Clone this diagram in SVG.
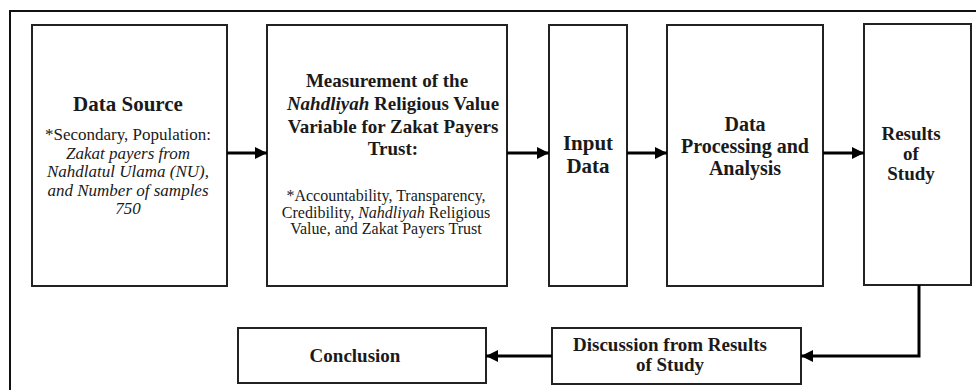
<svg xmlns="http://www.w3.org/2000/svg" width="976" height="390" viewBox="0 0 976 390">
<style>
.box{fill:#fff;stroke:#222;stroke-width:2}
.frame{fill:none;stroke:#111;stroke-width:2}
.conn{fill:none;stroke:#000;stroke-width:3}
text{font-family:"Liberation Serif","Times New Roman",serif;fill:#1a1a1a;text-anchor:middle}
.b{font-weight:bold}
.i{font-style:italic}
</style>
<defs>
<marker id="ah" markerUnits="userSpaceOnUse" markerWidth="12" markerHeight="12" viewBox="0 0 12 12" refX="12" refY="6" orient="auto">
<path d="M0,0 L12,6 L0,12 z" fill="#000"/>
</marker>
</defs>
<rect class="frame" x="10" y="11" width="1000" height="420"/>
<g id="data-source">
<rect class="box" x="32" y="25" width="195" height="261"/>
<text class="b" x="128" y="111" font-size="21">Data Source</text>
<text x="128" y="140" font-size="17">*Secondary, Population:</text>
<text class="i" x="128" y="158.5" font-size="17">Zakat payers from</text>
<text class="i" x="128" y="177" font-size="17">Nahdlatul Ulama (NU),</text>
<text class="i" x="128" y="195.5" font-size="17">and Number of samples</text>
<text class="i" x="128" y="214" font-size="17">750</text>
</g>
<g id="measurement">
<rect class="box" x="267" y="25" width="240" height="261"/>
<text class="b" x="387" y="87" font-size="19">Measurement of the</text>
<text class="b" x="393" y="110" font-size="19"><tspan class="i">Nahdliyah</tspan> Religious Value</text>
<text class="b" x="393" y="132.5" font-size="19">Variable for Zakat Payers</text>
<text class="b" x="393" y="155" font-size="19">Trust:</text>
<text x="386" y="201" font-size="16">*Accountability, Transparency,</text>
<text x="386" y="217.5" font-size="16">Credibility, <tspan class="i">Nahdliyah</tspan> Religious</text>
<text x="386" y="234" font-size="16">Value, and Zakat Payers Trust</text>
</g>
<g id="input-data">
<rect class="box" x="549" y="25" width="78" height="261"/>
<text class="b" x="588" y="150" font-size="21">Input</text>
<text class="b" x="588" y="173" font-size="21">Data</text>
</g>
<g id="processing">
<rect class="box" x="667" y="25" width="156" height="261"/>
<text class="b" x="745" y="131" font-size="20">Data</text>
<text class="b" x="745" y="153" font-size="20">Processing and</text>
<text class="b" x="745" y="175" font-size="20">Analysis</text>
</g>
<g id="results">
<rect class="box" x="864" y="24" width="107" height="261"/>
<text class="b" x="911" y="140" font-size="19">Results</text>
<text class="b" x="911" y="160" font-size="19">of</text>
<text class="b" x="911" y="180" font-size="19">Study</text>
</g>
<g id="discussion">
<rect class="box" x="552" y="328" width="249" height="56"/>
<text class="b" x="670" y="351" font-size="19">Discussion from Results</text>
<text class="b" x="670" y="371" font-size="19">of Study</text>
</g>
<g id="conclusion">
<rect class="box" x="238" y="328" width="248" height="55"/>
<text class="b" x="355" y="362" font-size="19">Conclusion</text>
</g>
<g id="connectors">
<line class="conn" x1="227" y1="153" x2="267" y2="153" marker-end="url(#ah)"/>
<line class="conn" x1="507" y1="153" x2="549" y2="153" marker-end="url(#ah)"/>
<line class="conn" x1="627" y1="153" x2="667" y2="153" marker-end="url(#ah)"/>
<line class="conn" x1="823" y1="153" x2="864" y2="153" marker-end="url(#ah)"/>
<polyline class="conn" points="919,285 919,356 801,356" marker-end="url(#ah)"/>
<line class="conn" x1="552" y1="356" x2="486" y2="356" marker-end="url(#ah)"/>
</g>
</svg>
